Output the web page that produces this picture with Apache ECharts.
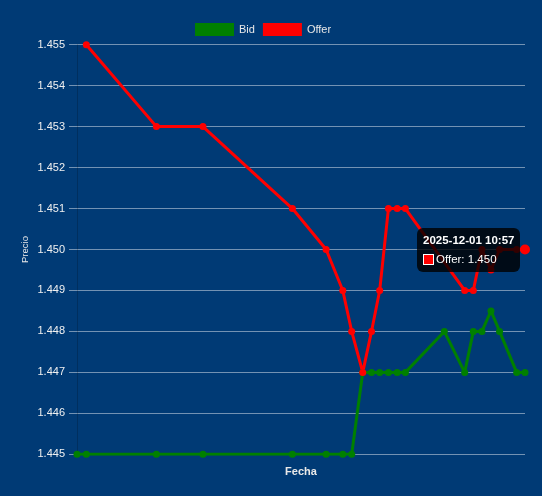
<!DOCTYPE html>
<html>
<head>
<meta charset="utf-8">
<script src="https://cdn.jsdelivr.net/npm/echarts@6/dist/echarts.min.js"></script>
<style>
html,body{margin:0;padding:0;background:#003a75;}
#chart{width:542px;height:496px;}
</style>
</head>
<body>
<div id="chart"></div>
<script>
var day = '2025-12-01';
var times = ['10:05:00','10:06:05','10:14:13','10:19:37','10:30:00','10:33:55','10:35:51','10:36:53','10:38:10','10:39:11','10:40:08','10:41:09','10:42:10','10:43:07','10:47:38','10:50:00','10:51:00','10:52:00','10:53:03','10:54:03','10:56:02','10:57:00'];
var bid = [1.445,1.445,1.445,1.445,1.445,1.445,1.445,1.445,1.447,1.447,1.447,1.447,1.447,1.447,1.448,1.447,1.448,1.448,1.4485,1.448,1.447,1.447];
var offer = [null,1.455,1.453,1.453,1.451,1.450,1.449,1.448,1.447,1.448,1.449,1.451,1.451,1.451,null,1.449,1.449,1.450,1.4495,1.450,1.450,1.450];
var yTicks = [1.445,1.446,1.447,1.448,1.449,1.450,1.451,1.452,1.453,1.454,1.455];

var font = '"Liberation Sans", Arial, Helvetica, sans-serif';
var bidData = times.map(function(t,i){return [day+' '+t, bid[i]];});
var offerData = times.map(function(t,i){return [day+' '+t, offer[i]];}).filter(function(d){return d[1]!==null;});
var lastIdx = offerData.length-1;
var offerSeriesData = offerData.map(function(d,i){
  return i===lastIdx ? {value:d, symbolSize:10} : {value:d};
});

var chart = echarts.init(document.getElementById('chart'));
chart.setOption({
  backgroundColor:'#003a75',
  animation:false,
  textStyle:{fontFamily:font},
  legend:{
    top:23, left:195, padding:0,
    itemWidth:39, itemHeight:13, itemGap:8,
    icon:'rect',
    textStyle:{color:'#e8e8e8', fontSize:11, fontFamily:font},
    data:['Bid','Offer']
  },
  grid:{left:77, right:17, top:44.7, bottom:41.7, containLabel:false},
  tooltip:{
    trigger:'item',
    alwaysShowContent:true,
    transitionDuration:0,
    position:[417,228],
    backgroundColor:'rgba(0,0,0,0.8)',
    borderWidth:0,
    borderRadius:6,
    padding:[6,6,6,6],
    extraCssText:'box-shadow:none;',
    formatter:function(p){
      var v = p.value;
      var t = String(v[0]).substring(0,16);
      return '<div style="font-family:'+font.replace(/"/g,"'")+';font-size:11.5px;color:#fff;line-height:13px;">'+
        '<div style="font-weight:bold;margin-bottom:6px;">'+t+'</div>'+
        '<div><span style="display:inline-block;box-sizing:border-box;width:11px;height:11px;background:'+p.color+';border:1px solid #fff;vertical-align:-2px;margin-right:2px;"></span>'+
        p.seriesName+': '+v[1].toFixed(3)+'</div></div>';
    }
  },
  xAxis:{
    type:'time',
    min:day+' '+times[0],
    max:day+' '+times[times.length-1],
    name:'Fecha',
    nameLocation:'middle',
    nameGap:12,
    nameTextStyle:{color:'#e8e8e8', fontSize:11, fontWeight:'bold', fontFamily:font},
    axisLabel:{show:false},
    axisTick:{show:false},
    axisLine:{show:false},
    splitLine:{show:false}
  },
  yAxis:{
    type:'value',
    min:yTicks[0], max:yTicks[yTicks.length-1], interval:0.001,
    name:'Precio',
    nameLocation:'middle',
    nameGap:47,
    nameMoveOverlap:false,
    nameRotate:90,
    nameTextStyle:{color:'#e8e8e8', fontSize:9.5, fontFamily:font},
    axisLabel:{color:'#f0f0f0', fontSize:11, fontFamily:font, margin:12,
      formatter:function(v){return v.toFixed(3);}},
    axisTick:{show:true, length:8, lineStyle:{color:'rgba(255,255,255,0.45)'}},
    axisLine:{show:true, lineStyle:{color:'rgba(0,0,0,0.18)'}},
    splitLine:{show:true, lineStyle:{color:'rgba(255,255,255,0.45)', width:1}}
  },
  series:[
    {name:'Bid', type:'line', data:bidData, color:'#008000',
     symbol:'circle', symbolSize:7, showSymbol:true,
     lineStyle:{width:3, color:'#008000'}, itemStyle:{color:'#008000'}},
    {name:'Offer', type:'line', data:offerSeriesData, color:'#ff0000',
     symbol:'circle', symbolSize:7, showSymbol:true, connectNulls:true,
     lineStyle:{width:3, color:'#ff0000'}, itemStyle:{color:'#ff0000'}}
  ]
});
chart.dispatchAction({type:'showTip', seriesIndex:1, dataIndex:lastIdx});
</script>
</body>
</html>
